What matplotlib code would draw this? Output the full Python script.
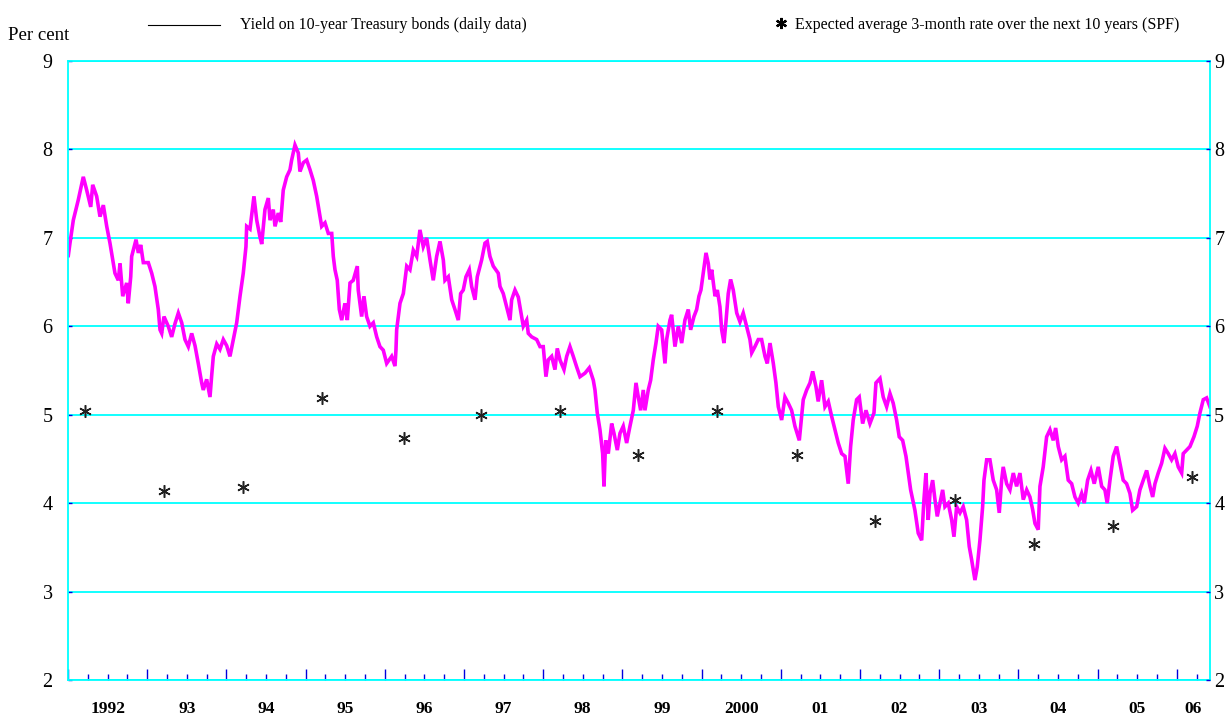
import matplotlib
matplotlib.use("Agg")
import matplotlib.pyplot as plt
from matplotlib.ticker import MultipleLocator
from matplotlib.lines import Line2D
import matplotlib.transforms as mtransforms

plt.rcParams['font.family'] = ['Liberation Serif', 'DejaVu Serif']

# 10-year Treasury yield (decimal year, per cent)
dates = [
    1992.004, 1992.025, 1992.067, 1992.130, 1992.193, 1992.236, 1992.287, 1992.312, 1992.362, 1992.404,
    1992.446, 1992.489, 1992.530, 1992.572, 1992.593, 1992.635, 1992.657, 1992.691, 1992.741, 1992.761,
    1992.792, 1992.804, 1992.859, 1992.888, 1992.918, 1992.951, 1993.014, 1993.057, 1993.098, 1993.140,
    1993.162, 1993.183, 1993.212, 1993.266, 1993.309, 1993.351, 1993.393, 1993.436, 1993.477, 1993.519,
    1993.562, 1993.604, 1993.645, 1993.688, 1993.708, 1993.751, 1993.793, 1993.814, 1993.835, 1993.878,
    1993.919, 1993.961, 1994.004, 1994.045, 1994.087, 1994.130, 1994.172, 1994.213, 1994.247, 1994.256,
    1994.298, 1994.348, 1994.383, 1994.424, 1994.446, 1994.487, 1994.529, 1994.551, 1994.592, 1994.614,
    1994.655, 1994.686, 1994.718, 1994.761, 1994.803, 1994.824, 1994.866, 1994.908, 1994.929, 1994.971,
    1995.014, 1995.056, 1995.097, 1995.140, 1995.182, 1995.203, 1995.245, 1995.287, 1995.330, 1995.350,
    1995.371, 1995.400, 1995.426, 1995.456, 1995.497, 1995.527, 1995.561, 1995.602, 1995.653, 1995.665,
    1995.708, 1995.737, 1995.771, 1995.813, 1995.855, 1995.898, 1995.939, 1995.981, 1996.024, 1996.087,
    1996.129, 1996.141, 1996.150, 1996.192, 1996.234, 1996.277, 1996.318, 1996.360, 1996.403, 1996.444,
    1996.486, 1996.529, 1996.571, 1996.612, 1996.655, 1996.697, 1996.739, 1996.760, 1996.802, 1996.845,
    1996.886, 1996.928, 1996.958, 1996.991, 1997.025, 1997.067, 1997.097, 1997.139, 1997.168, 1997.223,
    1997.265, 1997.294, 1997.328, 1997.370, 1997.433, 1997.455, 1997.496, 1997.539, 1997.581, 1997.602,
    1997.644, 1997.686, 1997.707, 1997.749, 1997.792, 1997.812, 1997.855, 1997.918, 1997.960, 1998.001,
    1998.035, 1998.064, 1998.107, 1998.149, 1998.178, 1998.212, 1998.263, 1998.297, 1998.338, 1998.380,
    1998.423, 1998.465, 1998.528, 1998.582, 1998.633, 1998.654, 1998.683, 1998.717, 1998.751, 1998.768,
    1998.789, 1998.822, 1998.865, 1998.894, 1998.936, 1998.970, 1999.011, 1999.054, 1999.096, 1999.138,
    1999.172, 1999.201, 1999.231, 1999.264, 1999.285, 1999.327, 1999.357, 1999.390, 1999.424, 1999.453,
    1999.496, 1999.538, 1999.559, 1999.601, 1999.622, 1999.664, 1999.706, 1999.749, 1999.790, 1999.832,
    1999.862, 1999.904, 1999.938, 1999.967, 1999.992, 2000.021, 2000.056, 2000.085, 2000.106, 2000.128,
    2000.170, 2000.199, 2000.232, 2000.254, 2000.283, 2000.308, 2000.337, 2000.367, 2000.400, 2000.444,
    2000.485, 2000.526, 2000.569, 2000.611, 2000.633, 2000.674, 2000.716, 2000.758, 2000.801, 2000.830,
    2000.864, 2000.906, 2000.939, 2000.969, 2001.011, 2001.053, 2001.095, 2001.137, 2001.179, 2001.234,
    2001.284, 2001.327, 2001.369, 2001.403, 2001.444, 2001.473, 2001.516, 2001.558, 2001.600, 2001.643,
    2001.684, 2001.726, 2001.769, 2001.811, 2001.852, 2001.882, 2001.915, 2001.958, 2001.991, 2002.034,
    2002.076, 2002.126, 2002.177, 2002.202, 2002.253, 2002.294, 2002.337, 2002.379, 2002.420, 2002.463,
    2002.496, 2002.539, 2002.581, 2002.610, 2002.640, 2002.694, 2002.736, 2002.779, 2002.808, 2002.833,
    2002.862, 2002.884, 2002.918, 2002.947, 2002.976, 2003.010, 2003.044, 2003.073, 2003.115, 2003.158,
    2003.187, 2003.221, 2003.263, 2003.304, 2003.347, 2003.380, 2003.410, 2003.452, 2003.481, 2003.515,
    2003.549, 2003.566, 2003.600, 2003.641, 2003.683, 2003.726, 2003.759, 2003.789, 2003.809, 2003.852,
    2003.894, 2003.936, 2003.978, 2004.020, 2004.062, 2004.105, 2004.146, 2004.180, 2004.210, 2004.251,
    2004.273, 2004.314, 2004.357, 2004.399, 2004.441, 2004.471, 2004.504, 2004.547, 2004.588, 2004.630,
    2004.673, 2004.715, 2004.756, 2004.799, 2004.832, 2004.875, 2004.917, 2004.958, 2005.009, 2005.052,
    2005.093, 2005.122, 2005.157, 2005.198, 2005.241, 2005.283, 2005.324, 2005.367, 2005.409, 2005.443,
    2005.494, 2005.535, 2005.577, 2005.620, 2005.662, 2005.696, 2005.725, 2005.766, 2005.809, 2005.851,
    2005.893, 2005.935, 2005.977, 2006.019, 2006.062, 2006.082, 2006.125, 2006.167, 2006.217, 2006.259,
    2006.293, 2006.335, 2006.377, 2006.419,
]
yields = [
    6.80, 6.94, 7.20, 7.43, 7.69, 7.54, 7.35, 7.60, 7.47, 7.24,
    7.37, 7.13, 6.94, 6.71, 6.60, 6.52, 6.71, 6.34, 6.49, 6.26,
    6.56, 6.79, 6.98, 6.83, 6.92, 6.72, 6.72, 6.60, 6.45, 6.19,
    5.96, 5.92, 6.11, 6.00, 5.88, 6.03, 6.15, 6.04, 5.85, 5.77,
    5.92, 5.78, 5.58, 5.36, 5.28, 5.40, 5.20, 5.44, 5.66, 5.80,
    5.74, 5.85, 5.78, 5.66, 5.85, 6.04, 6.34, 6.60, 6.90, 7.13,
    7.10, 7.47, 7.20, 7.01, 6.93, 7.32, 7.45, 7.20, 7.32, 7.13,
    7.28, 7.18, 7.54, 7.69, 7.77, 7.88, 8.05, 7.96, 7.75, 7.85,
    7.88, 7.77, 7.65, 7.47, 7.24, 7.13, 7.17, 7.05, 7.05, 6.79,
    6.64, 6.52, 6.19, 6.07, 6.26, 6.07, 6.49, 6.52, 6.68, 6.41,
    6.11, 6.34, 6.11, 6.00, 6.04, 5.88, 5.77, 5.73, 5.58, 5.66,
    5.55, 5.73, 5.96, 6.26, 6.37, 6.68, 6.64, 6.86, 6.79, 7.09,
    6.90, 7.00, 6.75, 6.52, 6.79, 6.96, 6.75, 6.52, 6.56, 6.30,
    6.19, 6.07, 6.37, 6.41, 6.56, 6.64, 6.45, 6.30, 6.56, 6.75,
    6.94, 6.96, 6.79, 6.68, 6.60, 6.45, 6.37, 6.22, 6.07, 6.30,
    6.41, 6.33, 6.22, 6.00, 6.07, 5.92, 5.88, 5.85, 5.77, 5.77,
    5.43, 5.62, 5.66, 5.51, 5.75, 5.62, 5.51, 5.66, 5.77, 5.66,
    5.54, 5.43, 5.47, 5.53, 5.39, 5.28, 5.02, 4.83, 4.56, 4.19,
    4.71, 4.56, 4.90, 4.79, 4.60, 4.79, 4.87, 4.68, 4.87, 5.05,
    5.36, 5.20, 5.05, 5.28, 5.05, 5.28, 5.39, 5.62, 5.81, 6.00,
    5.96, 5.58, 5.85, 6.07, 6.13, 5.77, 6.00, 5.81, 6.07, 6.19,
    5.96, 6.11, 6.19, 6.34, 6.41, 6.60, 6.83, 6.71, 6.53, 6.64,
    6.34, 6.41, 6.22, 5.96, 5.81, 6.05, 6.37, 6.53, 6.41, 6.15,
    6.05, 6.15, 6.00, 5.85, 5.70, 5.77, 5.85, 5.85, 5.66, 5.58,
    5.81, 5.58, 5.36, 5.09, 4.94, 5.20, 5.13, 5.05, 4.87, 4.71,
    5.17, 5.28, 5.36, 5.49, 5.32, 5.15, 5.39, 5.09, 5.15, 4.98,
    4.83, 4.68, 4.56, 4.53, 4.22, 4.64, 4.94, 5.17, 5.20, 4.90,
    5.05, 4.90, 5.02, 5.36, 5.41, 5.20, 5.09, 5.24, 5.13, 4.94,
    4.75, 4.71, 4.53, 4.34, 4.15, 3.92, 3.66, 3.58, 4.04, 4.34,
    3.81, 4.11, 4.26, 4.04, 3.85, 4.00, 4.15, 3.96, 4.00, 3.81,
    3.62, 3.96, 3.89, 3.96, 3.81, 3.51, 3.36, 3.13, 3.28, 3.58,
    3.96, 4.26, 4.49, 4.49, 4.26, 4.15, 3.89, 4.26, 4.41, 4.22,
    4.15, 4.34, 4.19, 4.34, 4.04, 4.15, 4.07, 3.93, 3.77, 3.70,
    4.19, 4.41, 4.75, 4.83, 4.71, 4.85, 4.64, 4.49, 4.53, 4.26,
    4.22, 4.07, 4.00, 4.11, 4.00, 4.26, 4.37, 4.22, 4.41, 4.19,
    4.15, 4.00, 4.26, 4.53, 4.64, 4.45, 4.26, 4.22, 4.11, 3.92,
    3.96, 4.15, 4.26, 4.37, 4.19, 4.07, 4.22, 4.34, 4.45, 4.62,
    4.56, 4.49, 4.56, 4.41, 4.34, 4.56, 4.60, 4.64, 4.75, 4.87,
    5.02, 5.17, 5.19, 5.09,
]

# SPF expected average 3-month rate over the next 10 years
spf_dates = [1992.21, 1993.21, 1994.21, 1995.21, 1996.24, 1997.21, 1998.21, 1999.20,
             2000.19, 2001.20, 2002.19, 2003.20, 2004.20, 2005.19, 2006.19]
spf_values = [5.04, 4.14, 4.18, 5.19, 4.74, 5.00, 5.04, 4.55,
              5.04, 4.55, 3.80, 4.04, 3.54, 3.74, 4.29]

year_labels = ['1992', '93', '94', '95', '96', '97', '98', '99',
               '2000', '01', '02', '03', '04', '05', '06']
year_label_pos = [1992.5, 1993.5, 1994.5, 1995.5, 1996.5, 1997.5, 1998.5, 1999.5,
                  2000.5, 2001.5, 2002.5, 2003.5, 2004.5, 2005.5, 2006.21]
y_ticks = [2, 3, 4, 5, 6, 7, 8, 9]

CYAN = '#00ffff'
TICK_BLUE = '#0000dd'

W, H = 1229, 716
fig = plt.figure(figsize=(W / 100, H / 100), dpi=100)
ax = fig.add_axes([68 / W, 36 / H, 1142 / W, 619 / H])
ax.set_xlim(1992.0, 2006.42)
ax.set_ylim(2, 9)

ax.set_yticks(y_ticks)
ax.yaxis.grid(True, color=CYAN, lw=1.3)
ax.set_axisbelow(True)
for s in ax.spines.values():
    s.set_color(CYAN)
    s.set_linewidth(1.3)

ax.plot(dates, yields, color='#ff00ff', lw=2.6, solid_joinstyle='miter')
ax.plot(spf_dates, spf_values, ls='none', marker=(6, 2, 0), ms=9,
        mec='#222222', mew=1.1)

ax.xaxis.set_major_locator(MultipleLocator(1))
ax.xaxis.set_minor_locator(MultipleLocator(0.25))
ax.tick_params(axis='x', which='major', direction='in', length=8, width=1,
               color=TICK_BLUE, labelbottom=False)
ax.tick_params(axis='x', which='minor', direction='in', length=4, width=1,
               color=TICK_BLUE)
ax.tick_params(axis='y', direction='in', length=3, width=1, color=TICK_BLUE,
               labelsize=14.5, pad=11)

ax2 = ax.twinx()
ax2.set_ylim(2, 9)
ax2.set_yticks(y_ticks)
ax2.tick_params(axis='y', direction='in', length=3, width=1, color=TICK_BLUE,
                labelsize=14.5, pad=3)
for s in ax2.spines.values():
    s.set_visible(False)

trans = mtransforms.blended_transform_factory(ax.transData, ax.transAxes)
for lab, pos in zip(year_labels, year_label_pos):
    ax.text(pos, -0.047, lab, transform=trans, ha='center', va='center',
            fontsize=12.5, fontweight='bold')

fig.text(8 / W, 1 - 36 / H, 'Per cent', ha='left', va='center', fontsize=13.5)

# legend
fig.add_artist(Line2D([148 / W, 220 / W], [1 - 25 / H, 1 - 25 / H],
                      transform=fig.transFigure, color='black', lw=0.8))
fig.text(240 / W, 1 - 25 / H, 'Yield on 10-year Treasury bonds (daily data)',
         ha='left', va='center', fontsize=11.5)
fig.add_artist(Line2D([781 / W], [1 - 23 / H], transform=fig.transFigure,
                      ls='none', marker=(6, 2, 0), ms=8, mec='black', mew=1.6))
fig.text(795 / W, 1 - 25 / H,
         'Expected average 3-month rate over the next 10 years (SPF)',
         ha='left', va='center', fontsize=11.5)

fig.savefig('out.png', dpi=100)
